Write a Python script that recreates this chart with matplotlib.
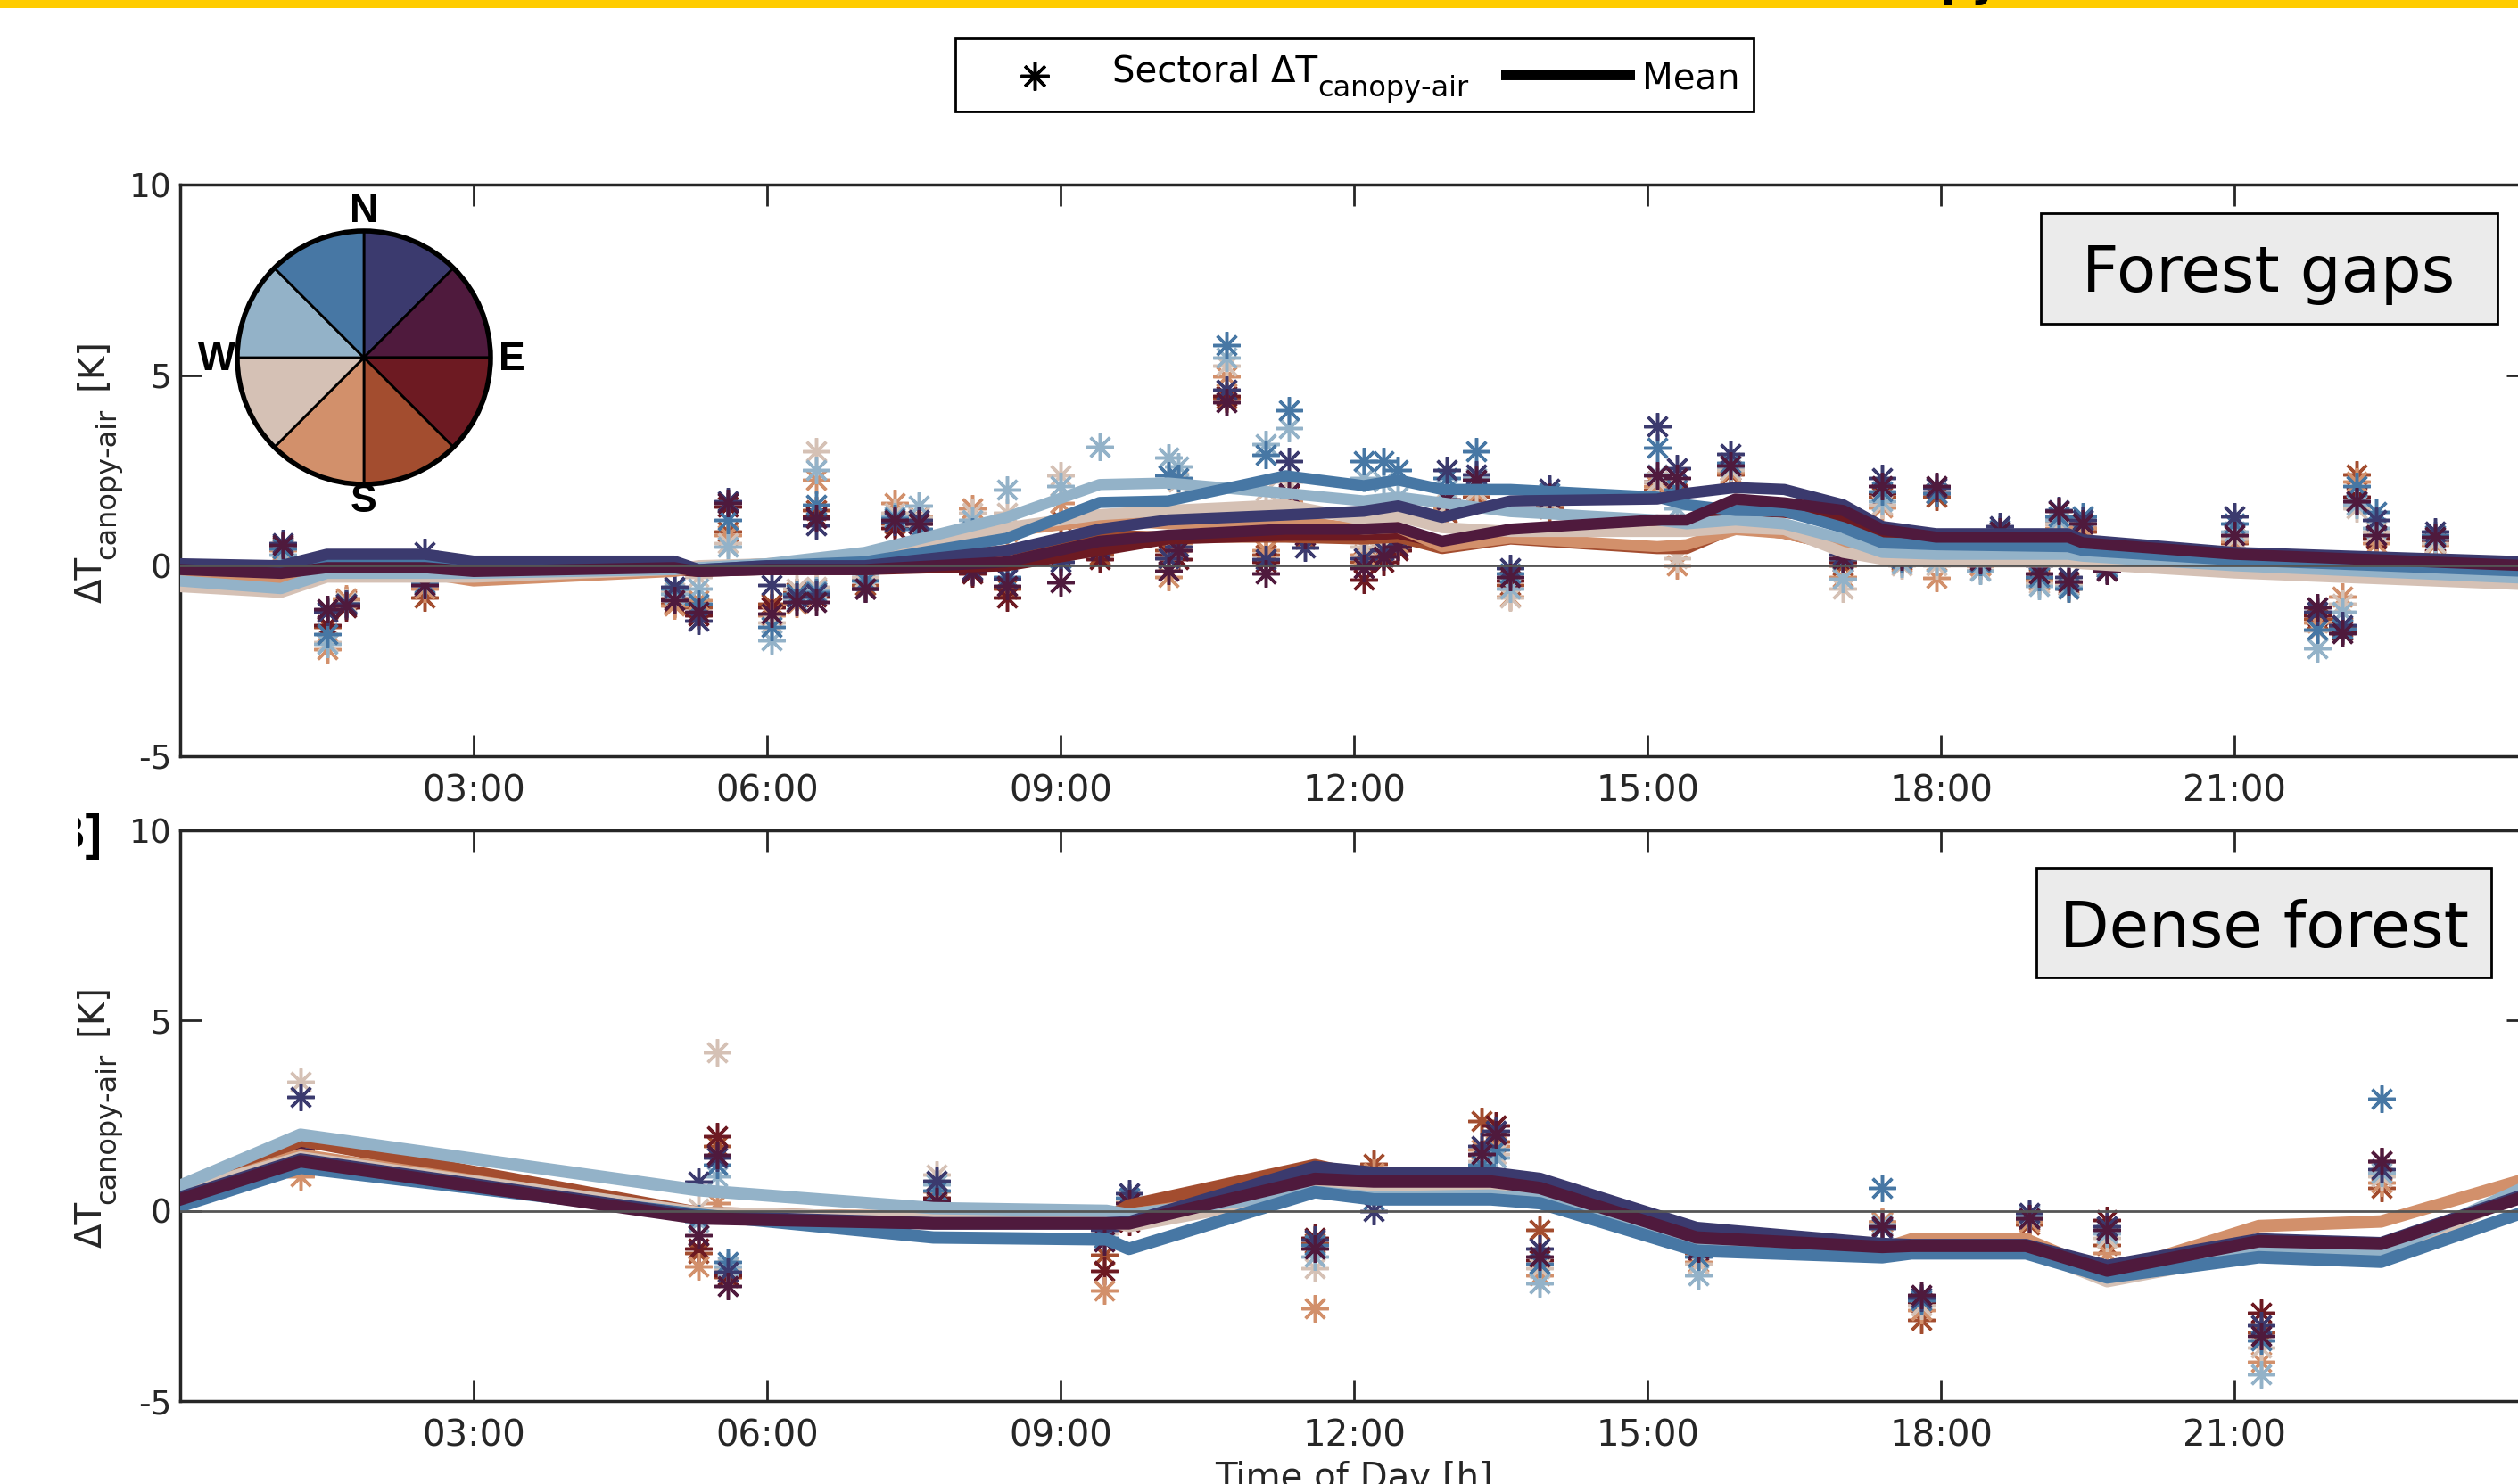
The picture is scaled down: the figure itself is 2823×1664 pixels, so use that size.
import matplotlib
matplotlib.use('Agg')
import matplotlib.pyplot as plt
import numpy as np
from matplotlib.lines import Line2D
from matplotlib.patches import Rectangle, Circle
from matplotlib.transforms import Bbox, TransformedBbox, IdentityTransform

plt.rcParams['font.family'] = 'DejaVu Sans'
plt.rcParams['axes.unicode_minus'] = False

#%% data
sectors = ['NNE', 'ENE', 'ESE', 'SSE', 'SSW', 'WSW', 'WNW', 'NNW']
colors = ['#3b3a6e', '#4f1a3d', '#6d1a22', '#a34d2f', '#d2906b', '#d5c1b5', '#93b2c8', '#4777a4']
draw_order = [3, 2, 4, 5, 6, 7, 0, 1]

hour_ticks = [3, 6, 9, 12, 15, 18, 21]
hour_labels = ['03:00', '06:00', '09:00', '12:00', '15:00', '18:00', '21:00']
y_ticks = [-5, 0, 5, 10]

# forest gaps: sector means (one row per sector, same order as sectors)
gap_line_t = [0, 1.03, 1.5, 2.5, 3.0, 5.05, 5.3, 6.0, 7.0, 8.45, 9.4, 10.1, 11.3, 12.1,
              12.45, 12.9, 13.6, 15.1, 15.4, 15.9, 16.4, 17.0, 17.4, 17.95, 19.3, 19.45, 21.0, 24.0]
gap_line_v = [
    [0.05, 0.0, 0.3, 0.3, 0.12, 0.12, -0.1, 0.0, 0.0, 0.4, 0.96, 1.2, 1.33, 1.43, 1.57, 1.27, 1.7, 1.75, 1.9, 2.05, 2.0, 1.6, 1.03, 0.84, 0.84, 0.68, 0.35, 0.1],
    [-0.1, -0.2, -0.05, -0.05, -0.15, -0.05, -0.15, -0.1, -0.1, 0.1, 0.64, 0.8, 0.96, 0.96, 1.0, 0.64, 0.96, 1.2, 1.2, 1.75, 1.65, 1.45, 0.95, 0.75, 0.75, 0.6, 0.3, 0.0],
    [-0.15, -0.25, -0.1, -0.1, -0.2, -0.1, -0.15, -0.1, -0.1, 0.0, 0.4, 0.7, 0.8, 0.8, 0.85, 0.6, 0.9, 1.1, 1.1, 1.45, 1.4, 1.2, 0.8, 0.65, 0.65, 0.5, 0.2, -0.05],
    [-0.2, -0.3, -0.1, -0.1, -0.3, -0.1, -0.1, 0.0, 0.0, 0.4, 0.8, 0.75, 0.75, 0.7, 0.75, 0.45, 0.7, 0.45, 0.45, 1.0, 0.85, 0.5, 0.3, 0.2, 0.2, 0.15, -0.05, -0.3],
    [-0.3, -0.45, -0.2, -0.2, -0.4, -0.15, -0.05, 0.05, 0.15, 0.9, 1.2, 1.1, 1.2, 0.96, 1.0, 0.5, 0.73, 0.5, 0.55, 0.95, 0.85, 0.5, 0.25, 0.15, 0.15, 0.1, -0.1, -0.35],
    [-0.55, -0.7, -0.3, -0.3, -0.3, -0.1, 0.0, 0.05, 0.2, 1.0, 1.34, 1.45, 1.6, 1.2, 1.3, 1.0, 0.9, 0.9, 0.9, 1.0, 0.95, 0.35, 0.17, 0.1, 0.1, 0.05, -0.19, -0.5],
    [-0.4, -0.6, -0.2, -0.2, -0.2, -0.1, -0.05, 0.05, 0.35, 1.27, 2.13, 2.17, 1.9, 1.7, 1.8, 1.65, 1.42, 1.2, 1.1, 1.2, 1.1, 0.7, 0.35, 0.3, 0.3, 0.25, 0.0, -0.33],
    [-0.05, -0.1, 0.1, 0.1, 0.0, 0.0, -0.1, 0.0, 0.1, 0.72, 1.66, 1.7, 2.36, 2.1, 2.25, 2.0, 2.0, 1.8, 1.6, 1.45, 1.43, 1.0, 0.6, 0.55, 0.5, 0.4, 0.15, -0.15],
]

# forest gaps: single measurements (one row per time, one value per sector)
gap_pts_t = [1.05, 1.5, 1.7, 2.5, 5.05, 5.3, 5.6, 6.05, 6.3, 6.5, 6.5, 7.0, 7.3, 7.55, 8.1, 8.45,
             9.0, 9.4, 10.1, 10.2, 10.7, 11.1, 11.33, 11.5, 12.1, 12.3, 12.45, 12.95, 13.25, 13.6,
             14.0, 15.1, 15.3, 15.85, 17.0, 17.4, 17.6, 17.95, 18.4, 18.6, 19.0, 19.2, 19.3, 19.45,
             19.7, 21.0, 21.85, 22.1, 22.25, 22.45, 23.05]
gap_pts_v = [
    [0.6, 0.55, 0.5, 0.45, 0.4, 0.45, 0.3, 0.45],
    [-1.2, -1.15, -1.55, -1.6, -2.2, -2.0, -2.05, -1.8],
    [-1.0, -1.05, -1.1, -0.9, -0.85, -0.95, -1.0, -1.0],
    [0.35, -0.5, -0.55, -0.84, -0.6, -0.5, -0.5, -0.45],
    [-0.55, -0.9, -0.85, -1.0, -1.05, -0.7, -0.75, -0.6],
    [-1.45, -1.2, -1.3, -1.1, -0.9, -0.3, -0.6, -1.0],
    [1.7, 1.65, 1.55, 0.9, 0.8, 0.6, 0.5, 1.2],
    [-0.5, -1.25, -1.1, -1.0, -1.3, -1.5, -1.95, -1.6],
    [-0.8, -0.95, -0.8, -0.7, -1.0, -0.6, -0.9, -0.75],
    [1.05, 1.25, 1.3, 1.45, 2.25, 3.0, 2.5, 1.6],
    [-0.75, -0.95, -0.8, -0.7, -0.6, -0.55, -0.65, -0.7],
    [-0.6, -0.6, -0.6, -0.5, -0.35, -0.3, -0.2, -0.4],
    [1.15, 1.2, 1.0, 1.1, 1.65, 1.4, 1.3, 1.25],
    [1.2, 1.1, 1.1, 1.2, 1.3, 1.27, 1.57, 0.96],
    [-0.1, -0.15, -0.2, 1.0, 1.5, 1.4, 1.2, 0.9],
    [-0.35, -0.53, -0.84, -0.6, 0.9, 1.4, 2.0, -0.3],
    [0.1, -0.44, 0.25, 1.2, 1.65, 2.36, 2.1, 0.2],
    [0.5, 0.4, 0.17, 0.3, 0.6, 0.9, 3.13, 0.8],
    [0.2, -0.14, 0.3, 0.4, -0.3, 0.2, 2.83, 2.36],
    [0.5, 0.4, 0.17, 0.4, 0.6, 2.2, 2.6, 2.3],
    [4.62, 4.3, 4.45, 4.38, 4.97, 5.24, 5.47, 5.78],
    [0.17, -0.2, 0.1, 0.3, 0.4, 1.97, 3.2, 2.9],
    [2.74, 1.9, 1.85, 1.6, 1.7, 2.2, 3.6, 4.07],
    [0.48, 0.8, 0.9, 0.7, 0.9, 1.0, 1.2, 1.1],
    [0.2, -0.06, -0.37, 0.1, 0.3, 0.5, 2.3, 2.74],
    [0.4, 0.25, 0.1, 0.3, 0.4, 0.6, 2.2, 2.74],
    [0.7, 0.5, 0.4, 0.5, 0.6, 0.8, 1.8, 2.5],
    [2.5, 1.73, 1.5, 1.4, 1.5, 1.6, 2.0, 2.3],
    [2.4, 2.25, 2.0, 1.8, 1.9, 2.0, 2.3, 3.0],
    [-0.07, -0.3, -0.4, -0.5, -0.8, -0.84, -0.6, -0.2],
    [2.03, 1.8, 1.6, 1.5, 1.6, 1.7, 1.8, 1.9],
    [3.65, 2.36, 2.2, 2.0, 2.1, 2.2, 2.4, 3.1],
    [2.55, 2.3, 2.0, 1.9, 0.0, 0.2, 1.5, 2.0],
    [2.93, 2.63, 2.5, 2.4, 2.45, 2.5, 2.6, 2.7],
    [0.3, 0.2, 0.1, 0.0, -0.3, -0.6, -0.35, 0.17],
    [2.3, 2.1, 1.9, 1.8, 1.52, 1.6, 1.7, 1.95],
    [0.3, 0.25, 0.2, 0.15, 0.1, 0.0, 0.05, 0.2],
    [2.05, 2.1, 1.9, 1.8, -0.33, 0.0, 0.1, 1.9],
    [0.2, 0.15, 0.1, 0.0, 0.0, -0.1, -0.14, 0.1],
    [1.03, 0.9, 0.8, 0.7, 0.8, 0.85, 0.9, 0.95],
    [0.0, -0.2, -0.3, -0.35, -0.4, -0.45, -0.52, -0.3],
    [1.45, 1.43, 1.2, 1.1, 1.0, 1.1, 1.2, 1.3],
    [-0.3, -0.42, -0.5, -0.45, -0.6, -0.5, -0.55, -0.6],
    [1.2, 1.1, 1.0, 0.9, 1.0, 1.1, 1.2, 1.3],
    [-0.1, -0.14, -0.05, 0.0, 0.0, 0.05, 0.0, -0.05],
    [1.3, 0.8, 0.7, 0.6, 0.65, 0.7, 0.9, 1.1],
    [-1.2, -1.1, -1.3, -1.4, -1.5, -1.7, -2.17, -1.68],
    [-1.55, -1.78, -1.7, -1.6, -0.82, -1.0, -1.2, -1.65],
    [1.7, 1.7, 1.8, 2.4, 2.2, 1.5, 1.6, 2.1],
    [1.2, 0.8, 0.7, 0.75, 0.6, 0.9, 1.0, 1.42],
    [0.9, 0.75, 0.65, 0.6, 0.55, 0.6, 0.7, 0.8],
]

# dense forest: sector means
dense_line_t = [0, 1.23, 5.3, 7.7, 9.47, 9.7, 11.6, 12.2, 13.4, 13.9, 15.5, 17.4, 17.7, 18.87,
                19.7, 21.25, 22.5, 24.0]
dense_line_v = [
    [0.35, 1.35, -0.15, -0.33, -0.33, -0.3, 1.15, 1.0, 1.0, 0.84, -0.45, -0.87, -0.9, -0.9, -1.45, -0.75, -0.85, 0.45],
    [0.3, 1.3, -0.2, -0.33, -0.33, -0.33, 0.84, 0.77, 0.77, 0.6, -0.7, -0.95, -0.92, -0.92, -1.57, -0.8, -0.87, 0.4],
    [0.35, 1.4, -0.1, -0.2, -0.2, -0.2, 0.9, 0.8, 0.8, 0.6, -0.75, -0.95, -0.9, -0.9, -1.55, -0.85, -0.9, 0.45],
    [0.4, 1.85, -0.05, -0.2, -0.2, 0.14, 1.2, 0.85, 0.85, 0.6, -0.8, -1.0, -0.85, -0.85, -1.6, -0.8, -0.95, 0.5],
    [0.45, 1.47, -0.1, -0.15, -0.2, -0.1, 0.6, 0.75, 0.8, 0.55, -0.85, -1.0, -0.75, -0.75, -1.65, -0.4, -0.28, 0.85],
    [0.5, 1.4, -0.05, -0.2, -0.25, -0.4, 0.5, 0.55, 0.6, 0.4, -0.9, -1.05, -1.0, -1.0, -1.85, -1.1, -1.25, 0.55],
    [0.66, 2.0, 0.54, 0.07, 0.0, -0.1, 0.5, 0.35, 0.4, 0.3, -0.95, -1.1, -1.05, -1.05, -1.75, -1.0, -1.1, 0.65],
    [0.12, 1.13, -0.1, -0.7, -0.75, -1.0, 0.49, 0.3, 0.3, 0.2, -1.05, -1.22, -1.12, -1.12, -1.75, -1.22, -1.34, 0.0],
]

# dense forest: single measurements
dense_pts_t = [1.23, 5.3, 5.49, 5.6, 7.73, 9.45, 9.7, 11.6, 12.2, 13.3, 13.45, 13.9, 15.52,
               17.4, 17.8, 18.9, 19.7, 21.27, 22.5]
dense_pts_v = [
    [3.0, 1.6, 1.55, 1.5, 0.9, 3.4, 1.7, 1.8],
    [0.77, -0.63, -1.0, -1.1, -1.45, 0.07, -0.3, -0.2],
    [1.4, 1.47, 1.95, 1.7, 0.2, 4.17, 0.9, 1.2],
    [-1.6, -1.97, -1.7, -1.75, -1.6, -1.5, -1.45, -1.34],
    [0.8, 0.26, 0.35, 0.2, 0.5, 0.95, 0.7, 0.54],
    [-0.5, -0.8, -1.57, -1.16, -2.1, -0.6, -0.4, -0.7],
    [0.45, 0.2, -0.3, 0.3, 0.25, 0.3, 0.1, 0.35],
    [-0.75, -1.0, -0.7, -0.85, -2.57, -1.5, -1.2, -0.9],
    [0.0, 0.5, 0.9, 1.24, 1.0, 0.8, 0.6, 0.3],
    [1.7, 1.5, 1.47, 2.36, 1.6, 1.3, 1.1, 1.2],
    [2.1, 2.0, 2.24, 1.83, 1.7, 1.5, 1.4, 1.6],
    [-1.0, -1.2, -1.3, -0.5, -1.7, -1.5, -1.9, -1.4],
    [-0.9, -1.0, -1.05, -1.1, -1.34, -1.4, -1.7, -1.2],
    [-0.45, -0.4, -0.4, -0.28, -0.3, -0.35, -0.35, 0.6],
    [-2.27, -2.2, -2.4, -2.86, -2.6, -2.5, -2.3, -2.35],
    [-0.05, -0.2, -0.25, -0.35, -0.3, -0.15, -0.1, -0.2],
    [-0.4, -0.5, -0.25, -0.9, -1.1, -0.7, -0.6, -0.5],
    [-3.0, -3.3, -2.68, -3.2, -3.97, -3.6, -4.3, -3.4],
    [1.1, 1.3, 1.3, 0.6, 0.75, 0.9, 1.0, 2.95],
]

#%% figure
W, H = 2823, 1664
fig = plt.figure(figsize=(W / 100, H / 100), dpi=100)
renderer = fig.canvas.get_renderer()
PIX = IdentityTransform()
INK = '#262626'

def px_rect(x0, y0, x1, y1):
    # pixel box (from top-left) -> figure fraction [l, b, w, h]
    return [x0 / W, 1 - y1 / H, (x1 - x0) / W, (y1 - y0) / H]

def compose(pieces, x0, y0, vertical=False, center=False, color=INK):
    # text with a big MATLAB-like subscript; pieces = (text, fontsize, drop_px, gap_px)
    arts, pos = [], 0.0
    for txt, fs, drop, gap in pieces:
        pos += gap
        if vertical:
            t = fig.text(x0 + drop, y0 + pos, txt, rotation=90, rotation_mode='anchor',
                         ha='left', va='baseline', fontsize=fs, color=color, transform=PIX)
            ext = t.get_window_extent(renderer)
            pos += ext.height
        else:
            t = fig.text(x0 + pos, y0 - drop, txt, ha='left', va='baseline', fontsize=fs,
                         color=color, transform=PIX)
            ext = t.get_window_extent(renderer)
            pos += ext.width
        arts.append(t)
    if center:
        for t in arts:
            x, y = t.get_position()
            if vertical:
                t.set_position((x, y - pos / 2))
            else:
                t.set_position((x - pos / 2, y))
    return arts

ax1 = fig.add_axes(px_rect(202, 207, 2834, 848))
ax2 = fig.add_axes(px_rect(202, 931, 2834, 1571))

asterisk = (8, 2, 0)
sub_txt = 'canopy\u2010air'

def draw_panel(ax, line_t, line_v, pts_t, pts_v, lw):
    pts_v = np.array(pts_v).T
    for k in draw_order:
        ax.plot(pts_t, pts_v[k], ls='none', marker=asterisk, ms=22, mew=2.5,
                color=colors[k], zorder=2)
    for k in draw_order:
        ax.plot(line_t, line_v[k], color=colors[k], lw=lw, zorder=3)
    ax.axhline(0, color='#555555', lw=2, zorder=4)
    ax.set_xlim(0, 24)
    ax.set_ylim(-5, 10)
    ax.set_xticks(hour_ticks)
    ax.set_xticklabels(hour_labels)
    ax.set_yticks(y_ticks)
    ax.tick_params(direction='in', length=17, width=2, top=True, right=True, colors=INK)
    ax.tick_params(axis='x', labelsize=29, pad=14)
    ax.tick_params(axis='y', labelsize=27, pad=7)
    for s in ax.spines.values():
        s.set_linewidth(2.5)
        s.set_color(INK)
    # y label: ΔT_canopy-air [K], centred on the axes
    bb = ax.get_position()
    yc = (bb.y0 + bb.y1) / 2 * H
    compose([('ΔT', 29, 0, 0), (sub_txt, 23, 15, -3), ('[K]', 29, 0, 20)],
            114, yc, vertical=True, center=True)

draw_panel(ax1, gap_line_t, gap_line_v, gap_pts_t, gap_pts_v, 9)
draw_panel(ax2, dense_line_t, dense_line_v, dense_pts_t, dense_pts_v, 10)

ax2.set_xlabel('Time of Day [h]', fontsize=29, color=INK)
ax2.xaxis.set_label_coords(0.5, -0.104)

# site boxes
for ax, name, box, tpos in [(ax1, 'Forest gaps', (0.7925, 0.757, 0.1945, 0.1935), (0.8894, 0.8128)),
                            (ax2, 'Dense forest', (0.7907, 0.742, 0.1938, 0.1922), (0.8879, 0.7953))]:
    ax.add_patch(Rectangle(box[:2], box[2], box[3], transform=ax.transAxes,
                           fc='#ebebeb', ec='k', lw=2, zorder=6))
    ax.text(tpos[0], tpos[1], name, transform=ax.transAxes,
            ha='center', va='baseline', fontsize=52, zorder=7)

# compass
axp = fig.add_axes(px_rect(266, 259, 550, 543))
axp.pie([1] * 8, colors=colors, startangle=90, counterclock=False,
        wedgeprops=dict(edgecolor='k', linewidth=2))
axp.add_patch(Circle((0, 0), 1, fill=False, ec='k', lw=4, clip_on=False))
axp.set_xlim(-1, 1)
axp.set_ylim(-1, 1)
axp.set_aspect('equal')
axp.axis('off')
for lbl, x, y in [('N', 0, 1.15), ('E', 1.17, -0.02), ('S', 0, -1.14), ('W', -1.16, -0.02)]:
    axp.text(x, y, lbl, ha='center', va='center', fontsize=32, fontweight='bold',
             family='Liberation Sans', clip_on=False)

# legend (drawn by hand to get the large subscript)
fig.add_artist(Rectangle((1071, H - 125), 895, 82, transform=PIX, fc='white', ec='k', lw=2))
fig.add_artist(Line2D([1160], [H - 85], ls='none', marker=asterisk, ms=23, mew=2.5,
                      color='k', transform=PIX))
compose([('Sectoral ΔT', 29, 0, 0), (sub_txt, 23, 16, 0)], 1247, H - 92, color='k')
fig.add_artist(Line2D([1683, 1833], [H - 84, H - 84], color='k', lw=8.6,
                      solid_capstyle='butt', transform=PIX))
fig.text(1841, H - 100, 'Mean', ha='left', va='baseline', fontsize=29, color='k', transform=PIX)

# cropped bits of the surrounding figure
fig.add_artist(Rectangle((0, 1 - 9 / H), 1, 9 / H, transform=fig.transFigure,
                         fc='#ffcc00', ec='none'))
fig.text(2241 / W, 1 + 4 / H, 'canopy', ha='right', va='baseline', fontsize=34,
         fontweight='bold')
tb = fig.text(115 / W, 1 - 938 / H, '[B]', ha='right', va='center', fontsize=40,
              fontweight='bold', family='Liberation Sans')
tb.set_clip_box(TransformedBbox(Bbox([[87 / W, 0], [1, 1]]), fig.transFigure))
tb.set_clip_on(True)

fig.savefig('out.png', dpi=100)
